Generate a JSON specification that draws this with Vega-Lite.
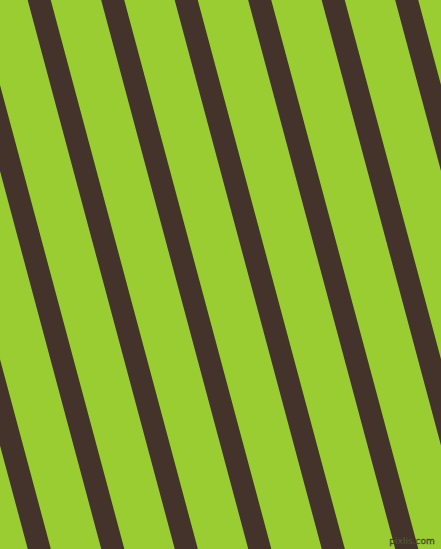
{
  "$schema": "https://vega.github.io/schema/vega-lite/v6.json",
  "width": 441,
  "height": 549,
  "autosize": {"type": "fit", "contains": "padding"},
  "padding": 0,
  "background": "#9ACD32",
  "config": {"view": {"stroke": null}},
  "layer": [
    {
      "data": {"values": [
        {"stripe": 1, "top": -107.8, "bottom": 39.3},
        {"stripe": 2, "top": -34.3, "bottom": 112.8},
        {"stripe": 3, "top": 39.2, "bottom": 186.3},
        {"stripe": 4, "top": 112.7, "bottom": 259.8},
        {"stripe": 5, "top": 186.2, "bottom": 333.3},
        {"stripe": 6, "top": 259.7, "bottom": 406.8},
        {"stripe": 7, "top": 333.2, "bottom": 480.3},
        {"stripe": 8, "top": 406.7, "bottom": 553.8},
        {"stripe": 9, "top": 480.2, "bottom": 627.3}
      ]},
      "mark": {"type": "rule", "color": "#43332B", "strokeWidth": 22.3, "strokeCap": "square", "clip": true},
      "encoding": {
        "x": {"field": "top", "type": "quantitative", "scale": {"domain": [0, 441], "nice": false, "zero": false}, "axis": null},
        "x2": {"field": "bottom"},
        "y": {"datum": 0, "type": "quantitative", "scale": {"domain": [0, 549], "reverse": true, "nice": false, "zero": false}, "axis": null},
        "y2": {"datum": 549}
      }
    },
    {
      "data": {"values": [{"label": "pixlis.com"}]},
      "mark": {"type": "text", "font": "DejaVu Sans", "fontSize": 9, "fill": "#7a7a4a", "stroke": "#3a3a20", "strokeWidth": 0.4, "align": "center", "baseline": "middle"},
      "encoding": {
        "text": {"field": "label"},
        "x": {"datum": 412, "type": "quantitative"},
        "y": {"datum": 541, "type": "quantitative"}
      }
    }
  ]
}
